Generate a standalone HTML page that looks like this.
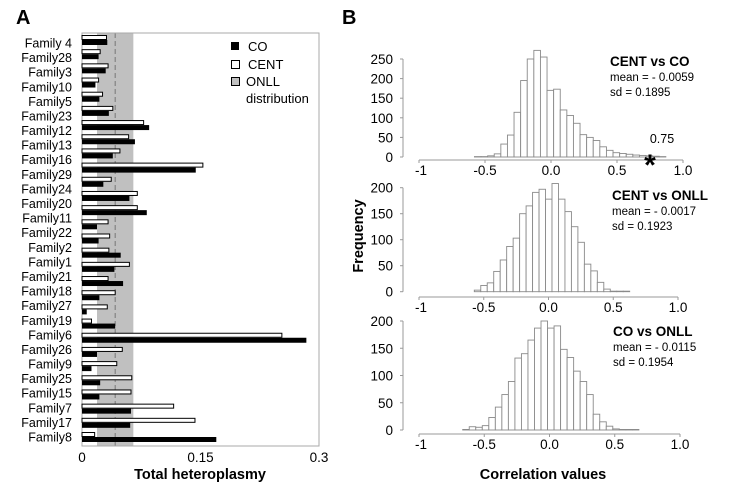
<!DOCTYPE html>
<html><head><meta charset="utf-8"><style>
html,body{margin:0;padding:0;background:#fff;}
svg{display:block;font-family:"Liberation Sans",Arial,sans-serif;}
</style></head><body>
<svg id="fig" width="733" height="493" viewBox="0 0 733 493" xmlns="http://www.w3.org/2000/svg">
<text x="16" y="24" font-size="20" font-weight="bold">A</text>
<text x="342" y="24" font-size="20" font-weight="bold">B</text>
<g id="pa"></g>
<g id="pb"></g>
</svg>
<script>
// Panel A data
const familyLabels = ["Family 4","Family28","Family3","Family10","Family5","Family23","Family12","Family13","Family16","Family29","Family24","Family20","Family11","Family22","Family2","Family1","Family21","Family18","Family27","Family19","Family6","Family26","Family9","Family25","Family15","Family7","Family17","Family8"];
const centValues = [0.031,0.023,0.033,0.021,0.026,0.039,0.078,0.059,0.048,0.153,0.037,0.070,0.070,0.033,0.035,0.034,0.060,0.033,0.042,0.032,0.012,0.253,0.051,0.044,0.063,0.062,0.116,0.143,0.016];
const coValues   = [0.032,0.021,0.030,0.017,0.022,0.034,0.085,0.067,0.039,0.144,0.027,0.060,0.082,0.019,0.021,0.049,0.041,0.052,0.022,0.006,0.042,0.284,0.019,0.012,0.023,0.022,0.062,0.061,0.170];
const xTicksA = [0, 0.15, 0.3];
const xTickLabelsA = ["0","0.15","0.3"];
const onllRange = [0.019, 0.065];
const onllMean = [0.042];

// Panel B data
const binStartCO = -0.58, binStartCentOnll = -0.573, binStartCoOnll = -0.665;
const binWidth = 0.05;
const histCentCo = [1,1,3,8,33,56,114,195,250,272,255,170,173,120,106,86,57,50,42,26,17,11,9,7,5,4,3,2,1];
const histCentOnll = [3,12,17,39,61,87,103,150,165,191,197,178,208,178,154,125,95,53,40,18,5,1,1,1];
const histCoOnll = [1,6,5,8,23,42,65,89,132,140,165,187,200,187,191,148,133,108,89,65,29,15,7,2,1,1,1];
const xTicksB = [-1,-0.5,0,0.5,1];
const xTickLabelsB = ["-1","-0.5","0.0","0.5","1.0"];
const yTicksTop = [0,50,100,150,200,250];
const yTicksOther = [0,50,100,150,200];
const observedCentCo = [0.75];

const NS="http://www.w3.org/2000/svg";
function mk(parent,tag,attrs,text){const e=document.createElementNS(NS,tag);for(const k in attrs)e.setAttribute(k,attrs[k]);if(text!==undefined)e.textContent=text;parent.appendChild(e);return e;}

// ---------- Panel A ----------
const pa=document.getElementById('pa');
const ax0=82, ax1=319, ay0=33, ay1=446;
const xA=v=>ax0+v/0.3*(ax1-ax0);
let band=mk(pa,'rect',{x:xA(onllRange[0]),y:ay0,width:xA(onllRange[1])-xA(onllRange[0]),height:ay1-ay0,fill:'#c0c0c0'});


let dl=mk(pa,'line',{x1:xA(onllMean[0]),x2:xA(onllMean[0]),y1:ay0,y2:ay1,stroke:'#777','stroke-dasharray':'5,3','stroke-width':1});


let frame=mk(pa,'rect',{x:ax0,y:ay0,width:ax1-ax0,height:ay1-ay0,fill:'none',stroke:'#aaa','stroke-width':1});


const nPairs=centValues.length;
const pairTop=41, pairBot=438;
const pairY=i=>pairTop+i*(pairBot-pairTop)/(nPairs-1);
for(let i=0;i<nPairs;i++){
  const cy=pairY(i);
  let w=mk(pa,'rect',{x:ax0,y:cy-5.5,width:xA(centValues[i])-ax0,height:4,fill:'#fff',stroke:'#000','stroke-width':1});
  
  
  let b=mk(pa,'rect',{x:ax0,y:cy-1,width:xA(coValues[i])-ax0,height:5,fill:'#000'});
  
  
}
const labTop=43, labBot=437;
familyLabels.forEach((l,i)=>{
  const y=labTop+i*(labBot-labTop)/(familyLabels.length-1);
  let t=mk(pa,'text',{x:72,y:y+4.5,'font-size':12.5,'text-anchor':'end'},l);
  
  
});
xTicksA.forEach((v,i)=>{
  let t=mk(pa,'text',{x:xA(v),y:462,'font-size':13.5,'text-anchor':'middle'},xTickLabelsA[i]);
  
  
});
let xt=mk(pa,'text',{x:200,y:479,'font-size':14.5,'font-weight':'bold','text-anchor':'middle'},'Total heteroplasmy');


// legend
const lg=mk(pa,'g',{});


mk(lg,'rect',{x:231,y:42,width:8,height:8,fill:'#000'});
mk(lg,'text',{x:248,y:51,'font-size':13},'CO');
mk(lg,'rect',{x:231.5,y:60.5,width:8,height:8,fill:'#fff',stroke:'#000','stroke-width':1});
mk(lg,'text',{x:248,y:69,'font-size':13},'CENT');
mk(lg,'rect',{x:231.5,y:77.5,width:8,height:8,fill:'#c0c0c0',stroke:'#000','stroke-width':1});
mk(lg,'text',{x:246,y:86,'font-size':13},'ONLL');
mk(lg,'text',{x:246,y:103,'font-size':13},'distribution');

// ---------- Panel B ----------
const pb=document.getElementById('pb');
function hist(cfg){
  const g=mk(pb,'g',{});
  
  
  const xS=v=>cfg.xl+(v+1)/2*(cfg.xr-cfg.xl);
  const yS=v=>cfg.y0-v*cfg.ppu;
  cfg.data.forEach((v,i)=>{
    const x0=xS(cfg.start+i*binWidth), x1=xS(cfg.start+(i+1)*binWidth);
    let r=mk(g,'rect',{x:x0,y:yS(v),width:x1-x0,height:cfg.y0-yS(v),fill:'#fff',stroke:'#8a8a8a','stroke-width':0.9});
    
    
  });
  mk(g,'line',{x1:403,x2:403,y1:yS(cfg.yt[cfg.yt.length-1]),y2:cfg.y0,stroke:'#999','stroke-width':1});
  cfg.yt.forEach(v=>{
    mk(g,'line',{x1:400,x2:403,y1:yS(v),y2:yS(v),stroke:'#999'});
    let t=mk(g,'text',{x:393,y:yS(v)+5,'font-size':13.5,'text-anchor':'end'},String(v));
    
    
  });
  mk(g,'line',{x1:xS(-1),x2:xS(1),y1:cfg.ax,y2:cfg.ax,stroke:'#999','stroke-width':1});
  xTicksB.forEach((v,i)=>{
    mk(g,'line',{x1:xS(v),x2:xS(v),y1:cfg.ax,y2:cfg.ax+3,stroke:'#999'});
    let t=mk(g,'text',{x:xS(v)+(i==0?2:0),y:cfg.ax+15,'font-size':13.5,'text-anchor':'middle'},xTickLabelsB[i]);
    
    
  });
  let t1=mk(g,'text',{x:cfg.tx,y:cfg.ty,'font-size':13.5,'font-weight':'bold'},cfg.title);
  
  
  mk(g,'text',{x:cfg.tx,y:cfg.ty+15,'font-size':11.5},cfg.mean);
  mk(g,'text',{x:cfg.tx,y:cfg.ty+30,'font-size':11.5},cfg.sd);
  return {xS,yS};
}
const topHist=hist({name:'histogram-cent-vs-co',data:histCentCo,start:binStartCO,xl:419,xr:683,y0:157,ppu:98/250,ax:160,yt:yTicksTop,tx:610,ty:66,title:'CENT vs CO',mean:'mean = - 0.0059',sd:'sd = 0.1895'});
hist({name:'histogram-cent-vs-onll',data:histCentOnll,start:binStartCentOnll,xl:419,xr:678,y0:291.7,ppu:0.52,ax:297,yt:yTicksOther,tx:612,ty:200,title:'CENT vs ONLL',mean:'mean = - 0.0017',sd:'sd = 0.1923'});
hist({name:'histogram-co-vs-onll',data:histCoOnll,start:binStartCoOnll,xl:419,xr:680,y0:430,ppu:109/200,ax:434,yt:yTicksOther,tx:613,ty:336,title:'CO vs ONLL',mean:'mean = - 0.0115',sd:'sd = 0.1954'});
let star=mk(pb,'text',{x:topHist.xS(observedCentCo[0]),y:175,'font-size':30,'font-weight':'bold','text-anchor':'middle'},'*');


let sl=mk(pb,'text',{x:topHist.xS(observedCentCo[0])+12,y:143,'font-size':12.5,'text-anchor':'middle'},String(observedCentCo[0]));


let yl=mk(pb,'text',{x:0,y:0,'font-size':14.5,'font-weight':'bold','text-anchor':'middle',transform:'translate(363,236) rotate(-90)'},'Frequency');


let xl=mk(pb,'text',{x:543,y:479,'font-size':14.5,'font-weight':'bold','text-anchor':'middle'},'Correlation values');


</script>
</body></html>
